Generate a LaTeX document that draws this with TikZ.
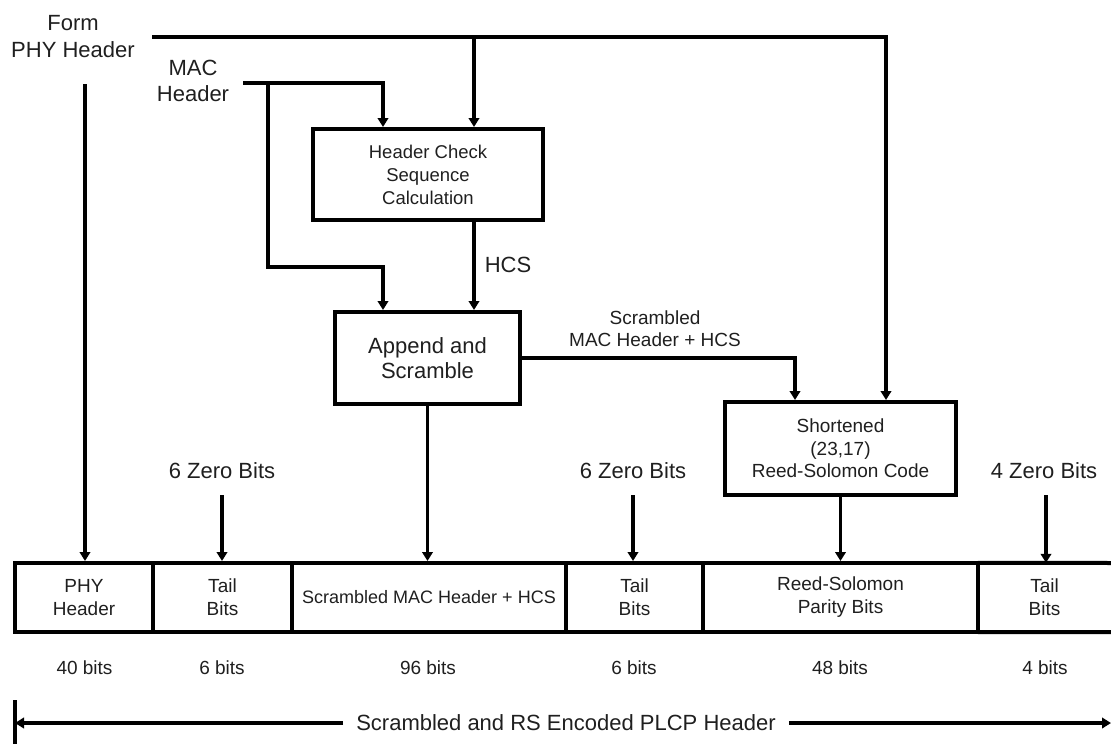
\documentclass[tikz,border=0pt]{standalone}
\usepackage{fontspec}
\setmainfont{Liberation Sans}
\usetikzlibrary{arrows.meta}
\begin{document}
\begin{tikzpicture}[x=1pt,y=-1pt,
  every node/.style={inner sep=0pt, align=center, text=black!88},
  big/.style={font=\fontsize{22}{26}\selectfont},
  mid/.style={font=\fontsize{19}{23}\selectfont},
  conn/.style={line width=3.4pt},
  arr/.style={conn,-{Triangle[length=9pt,width=10.5pt]}},
  blk/.style={draw=black, line width=4pt},
  cell/.style={draw=black, line width=4pt, minimum height=69pt, mid},
  ]
\useasboundingbox (0,0) rectangle (1111,744);

% input labels
\node[big, font=\fontsize{22}{27}\selectfont] (form) at (73,37) {Form\\PHY Header};
\node[big] (mac) at (193,81) {MAC\\Header};

% blocks
\node[blk, minimum width=230pt, minimum height=91pt, font=\fontsize{18.5}{23}\selectfont] (hcs) at (428,174.5) {Header Check\\Sequence\\Calculation};
\node[blk, minimum width=185pt, minimum height=92pt, font=\fontsize{22}{25}\selectfont] (app) at (427.5,358) {Append and\\Scramble};
\node[blk, minimum width=231pt, minimum height=93pt, font=\fontsize{19}{22.5}\selectfont] (rs) at (840.5,448.5) {Shortened\\(23,17)\\Reed-Solomon Code};

% labels
\node[big] (hcslbl) at (508,265) {HCS};
\node[font=\fontsize{19}{22}\selectfont] (smlbl) at (655,329) {Scrambled\\MAC Header + HCS};
\node[big] (z1) at (222,471) {6 Zero Bits};
\node[big] (z2) at (633,471) {6 Zero Bits};
\node[big] (z3) at (1044,471) {4 Zero Bits};

% bottom row
\node[cell, minimum width=138pt] (c1) at (84,597.5) {PHY\\Header};
\node[cell, minimum width=139pt] (c2) at (222.5,597.5) {Tail\\Bits};
\node[cell, minimum width=274pt, font=\fontsize{18}{22}\selectfont] (c3) at (429,597.5) {Scrambled MAC Header + HCS};
\node[cell, minimum width=137pt] (c4) at (634.5,597.5) {Tail\\Bits};
\node[cell, minimum width=275pt] (c5) at (840.5,597.5) {Reed-Solomon\\Parity Bits};
\node[mid, minimum width=133pt, minimum height=69pt] (c6) at (1044.5,597.5) {Tail\\Bits};
\draw[line width=4pt] (c6.north west) -- (1112,563) (c6.south west) -- (1112,632);

% bit counts
\node[mid] (b1) at (84.5,668) {40 bits};
\node[mid] (b2) at (222,668) {6 bits};
\node[mid] (b3) at (428,668) {96 bits};
\node[mid] (b4) at (634,668) {6 bits};
\node[mid] (b5) at (840,668) {48 bits};
\node[mid] (b6) at (1045,668) {4 bits};

% overall length
\node[big] (plcp) at (566,722.5) {Scrambled and RS Encoded PLCP Header};
\coordinate (tickT) at (15,700);
\coordinate (tickB) at (15,744);
\coordinate (Lend) at (15,723);
\coordinate (Rend) at (1111,723);
\draw[conn] (tickT) -- (tickB);
\draw[arr] ([xshift=-13pt,yshift=-0.5pt]plcp.west) -- (Lend);
\draw[arr] ([xshift=13pt,yshift=-0.5pt]plcp.east) -- (Rend);

% connectors
\coordinate (formS) at (152,37);
\coordinate (formP) at (85,84);
\coordinate (macS) at (243,83);
\coordinate (macB) at (268,83);
\coordinate (macK) at (268,267);
\draw[arr] (formS) -| ([xshift=45.5pt]rs.north);
\draw[arr] ([xshift=46pt]hcs.north |- formS) -- ([xshift=46pt]hcs.north);
\draw[arr] (formP) -- (formP |- c1.north);
\draw[arr] (macS) -| ([xshift=-45pt]hcs.north);
\draw[arr] (macB) -- (macK) -| ([xshift=-44.5pt]app.north);
\draw[arr] ([xshift=46pt]hcs.south) -- ([xshift=46pt]hcs.south |- app.north);
\draw[arr] (app.east) -| ([xshift=-45.5pt]rs.north);
\draw[arr] (app.south) -- (app.south |- c3.north);
\draw[arr] (rs.south) -- (rs.south |- c5.north);
\draw[arr] ([yshift=-16pt]z1.south) -- (z1.south |- c2.north);
\draw[arr] ([yshift=-16pt]z2.south) -- (z2.south |- c4.north);
\draw[arr] ([yshift=-16pt,xshift=2pt]z3.south) -- ([xshift=2pt]z3.south |- c6.north);
\end{tikzpicture}
\end{document}
